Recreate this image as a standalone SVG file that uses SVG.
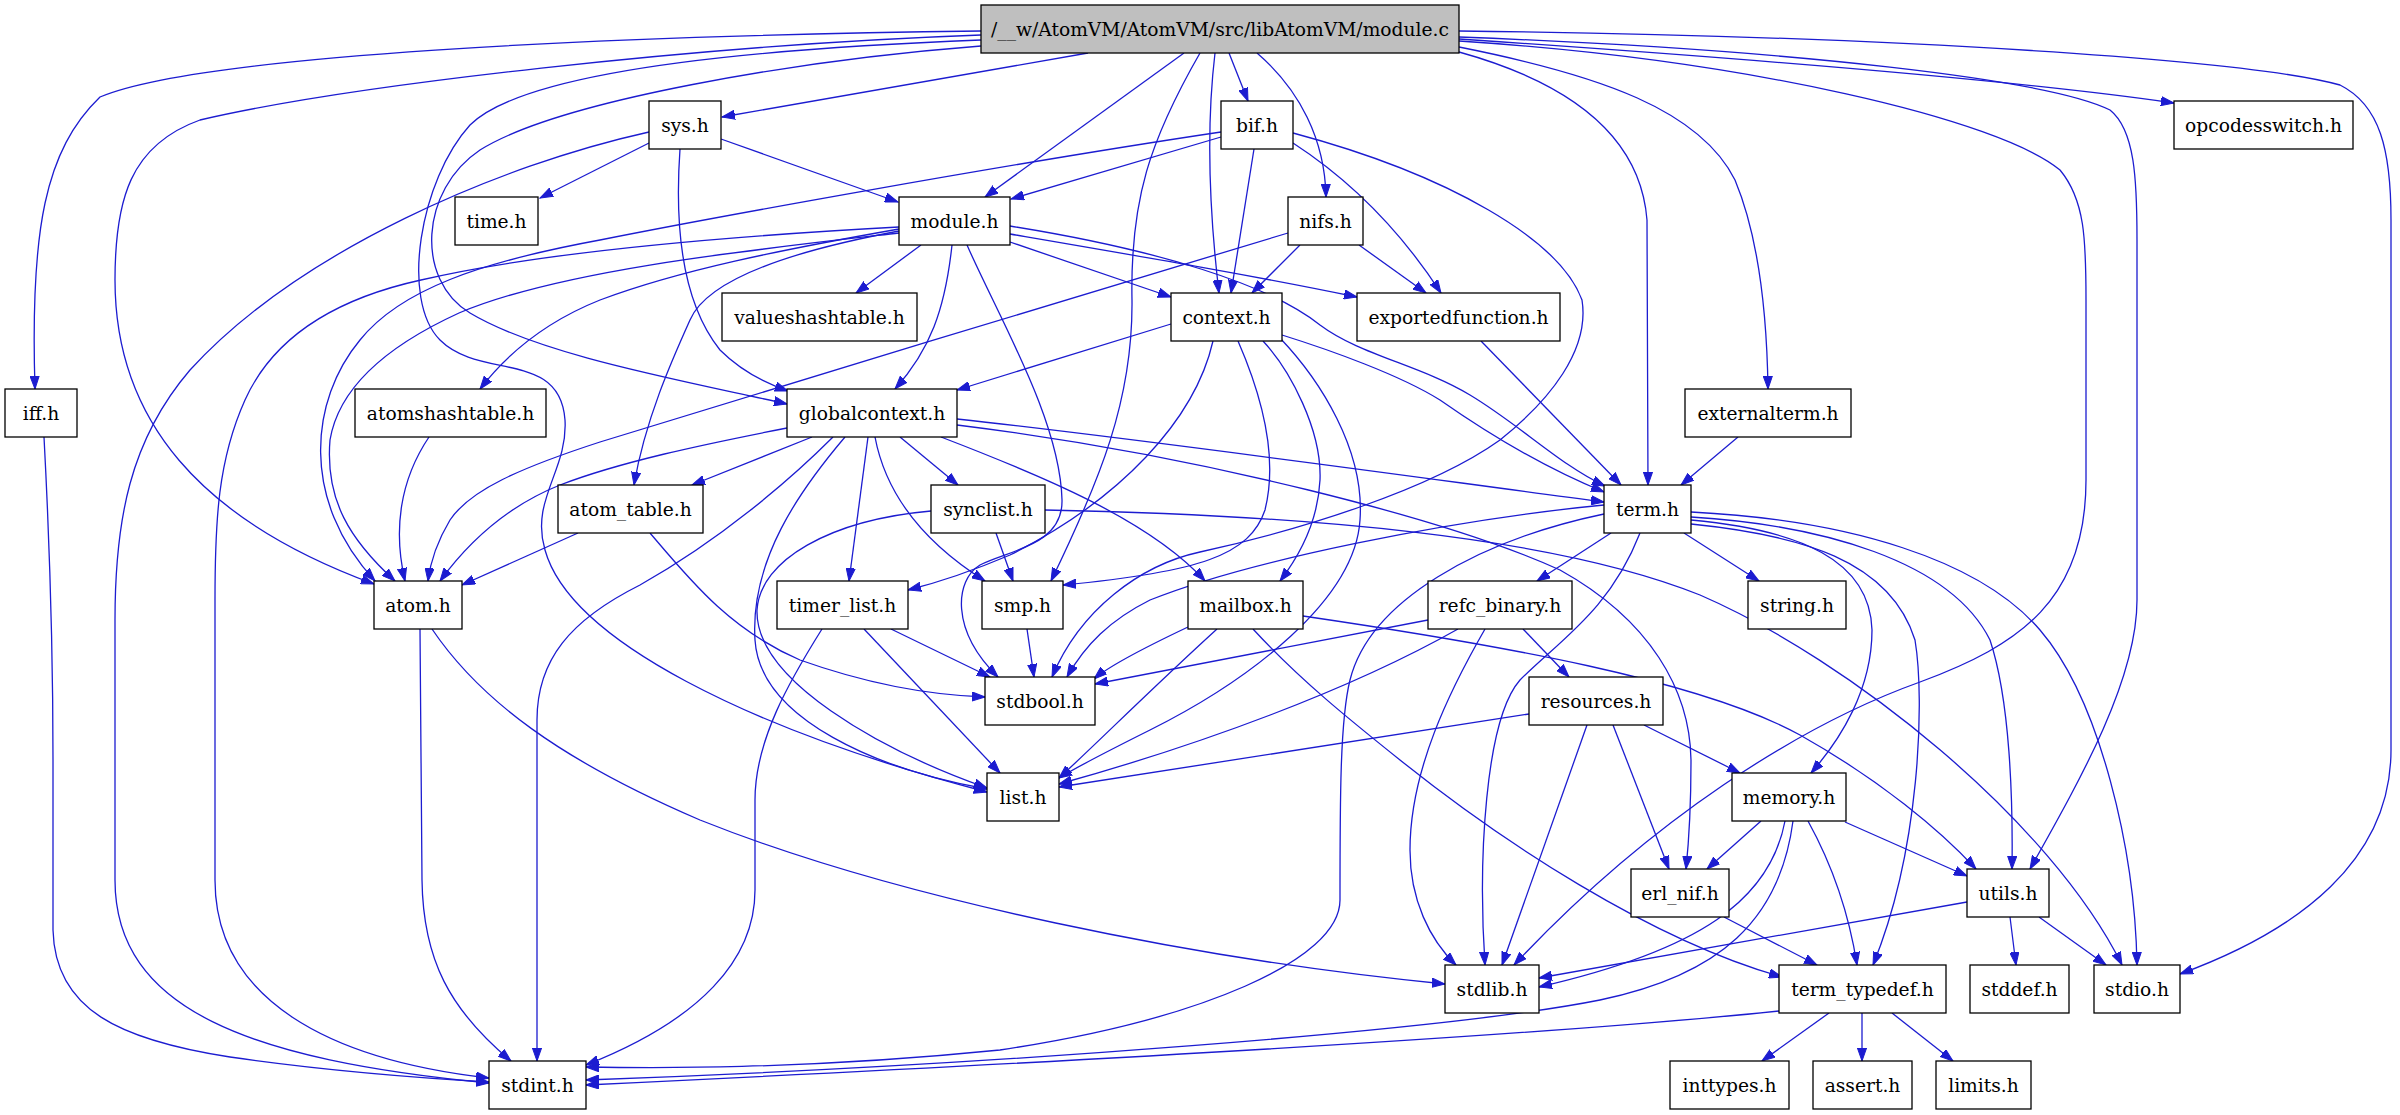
<svg xmlns="http://www.w3.org/2000/svg" width="2400" height="1115" viewBox="0 0 2400 1115">
<style>
.n rect{fill:#fff;stroke:#000;stroke-width:1.3}
.n.root rect{fill:#bfbfbf}
.n text{font-family:"DejaVu Serif",serif;font-size:18.67px;text-anchor:middle;fill:#000}
.e path{fill:none;stroke:#1c1cd0;stroke-width:1.3;marker-end:url(#ah)}
</style>
<defs>
<marker id="ah" markerUnits="userSpaceOnUse" markerWidth="14" markerHeight="10" refX="13" refY="5" orient="auto">
<path d="M0,0.4 L13,5 L0,9.6 z" fill="#1c1cd0" stroke="#1c1cd0" stroke-width="1"/>
</marker>
</defs>
<rect width="2400" height="1115" fill="#fff"/>
<g class="e" id="edges">
<path d="M981,31 C600,36 200,55 100,97 C45,150 30,230 35,389"/>
<path d="M981,35 C700,45 350,85 200,120 C130,145 115,200 115,280 C115,420 200,520 374,584"/>
<path d="M981,40 C720,50 520,75 470,125 C420,180 400,300 440,340 C480,380 560,350 565,420 C568,470 530,500 545,550 C570,640 750,730 987,792"/>
<path d="M981,46 C800,60 560,100 480,150 C420,190 415,280 470,313 C540,355 680,380 787,404"/>
<path d="M1088,53 L722,117"/>
<path d="M1184,53 L985,197"/>
<path d="M1229,53 L1248,101"/>
<path d="M1215,53 C1207,120 1208,200 1219,293"/>
<path d="M1257,53 C1300,90 1325,140 1326,197"/>
<path d="M1200,53 C1150,140 1130,200 1132,300 C1133,400 1100,480 1051,581"/>
<path d="M1459,52 C1560,80 1640,130 1647,220 L1648,485"/>
<path d="M1459,47 C1600,75 1700,110 1735,180 C1760,240 1767,320 1768,389"/>
<path d="M1459,41 C1750,60 2000,120 2060,170 C2085,200 2086,240 2086,300 L2086,480 C2086,600 2020,645 1920,682 C1800,725 1650,820 1514,965"/>
<path d="M1459,37 C1800,50 2050,80 2110,110 C2135,130 2137,180 2137,240 L2137,600 C2137,680 2080,780 2030,869"/>
<path d="M1459,39 C1800,62 2050,85 2174,103"/>
<path d="M1459,31 C1900,36 2250,60 2340,85 C2380,105 2391,150 2391,220 L2391,750 C2391,860 2300,930 2180,974"/>
<path d="M649,143 L540,198"/>
<path d="M721,139 L898,202"/>
<path d="M680,149 C675,220 680,300 720,350 C740,370 762,382 788,391"/>
<path d="M649,132 C500,165 300,250 190,370 C130,440 115,520 115,620 L115,880 C115,1010 250,1060 489,1083"/>
<path d="M1221,137 L1011,199"/>
<path d="M1221,132 C1000,165 700,220 600,240 C480,262 400,290 360,340 C310,400 300,500 375,581"/>
<path d="M1254,149 L1231,293"/>
<path d="M1293,143 C1350,180 1400,230 1441,293"/>
<path d="M1293,133 C1450,175 1560,240 1582,300 C1590,350 1550,400 1500,440 C1430,490 1300,530 1200,552 C1140,565 1080,610 1052,677"/>
<path d="M921,245 L856,293"/>
<path d="M952,245 C945,310 930,350 895,389"/>
<path d="M967,245 C1000,320 1060,420 1062,500 C1063,545 1010,550 980,565 C955,580 950,630 998,677"/>
<path d="M1010,242 L1171,297"/>
<path d="M1010,234 C1150,258 1250,275 1357,297"/>
<path d="M1010,226 C1160,250 1270,285 1320,325 C1360,355 1420,365 1470,395 C1520,425 1560,465 1605,486"/>
<path d="M899,231 C770,255 705,285 690,320 C672,360 645,420 634,485"/>
<path d="M899,229 C780,250 680,270 600,300 C550,320 510,350 480,389"/>
<path d="M899,233 C750,250 560,270 459,313 C400,340 340,380 330,440 C325,500 350,540 395,581"/>
<path d="M899,227 C750,235 550,250 421,280 C330,300 272,340 245,400 C218,460 215,520 215,600 L215,880 C215,1000 330,1060 489,1078"/>
<path d="M1300,245 L1252,293"/>
<path d="M1359,245 L1426,293"/>
<path d="M1288,233 C1100,290 800,380 600,442 C520,468 470,490 450,520 C435,545 430,565 428,581"/>
<path d="M1171,324 L957,390"/>
<path d="M1263,341 C1290,370 1322,430 1320,480 C1318,520 1300,555 1280,581"/>
<path d="M1238,341 C1255,380 1280,450 1265,510 C1250,555 1200,572 1063,585"/>
<path d="M1280,338 C1320,380 1365,450 1360,520 C1355,600 1250,680 1150,730 C1110,750 1080,765 1059,778"/>
<path d="M1282,335 C1330,350 1400,375 1440,400 C1490,435 1550,470 1604,492"/>
<path d="M1213,341 C1195,420 1120,500 1010,555 C970,572 940,582 908,590"/>
<path d="M1481,341 L1621,485"/>
<path d="M1738,437 L1681,485"/>
<path d="M44,437 C50,550 53,650 53,760 L53,930 C55,1010 120,1040 230,1057 C320,1070 420,1078 489,1082"/>
<path d="M429,437 C400,480 393,530 405,581"/>
<path d="M812,437 L692,485"/>
<path d="M787,428 C700,445 620,462 560,485 C510,505 470,540 440,581"/>
<path d="M833,437 C790,480 720,540 640,585 C570,620 537,660 537,720 L537,1061"/>
<path d="M845,437 C800,490 750,560 755,640 C760,720 880,770 987,789"/>
<path d="M868,437 L849,581"/>
<path d="M875,437 C885,490 920,540 985,581"/>
<path d="M900,437 L958,485"/>
<path d="M941,437 C1040,475 1150,520 1205,581"/>
<path d="M957,419 C1150,440 1400,475 1604,502"/>
<path d="M957,425 C1200,455 1450,520 1560,570 C1650,620 1690,690 1691,760 C1691,800 1689,840 1686,869"/>
<path d="M578,533 L462,585"/>
<path d="M650,533 C690,580 730,630 800,660 C870,685 930,695 985,697"/>
<path d="M996,533 L1013,581"/>
<path d="M931,511 C830,520 760,560 757,610 C755,680 880,750 987,788"/>
<path d="M1045,510 C1300,515 1550,535 1700,595 C1850,660 2050,820 2122,965"/>
<path d="M1611,533 L1537,581"/>
<path d="M1684,533 L1759,581"/>
<path d="M1604,505 C1450,520 1250,560 1150,600 C1110,620 1085,645 1067,677"/>
<path d="M1604,514 C1480,540 1370,600 1350,680 C1340,720 1340,800 1340,900 C1340,960 1200,1020 1000,1050 C800,1070 650,1068 586,1067"/>
<path d="M1640,533 C1610,610 1560,640 1520,680 C1485,720 1478,860 1485,965"/>
<path d="M1691,520 C1800,530 1870,560 1872,630 C1872,690 1840,740 1811,773"/>
<path d="M1691,524 C1800,535 1890,560 1915,640 C1925,700 1920,850 1873,965"/>
<path d="M1691,517 C1820,525 1950,560 1990,640 C2010,700 2013,800 2012,869"/>
<path d="M1691,512 C1850,520 1980,560 2040,630 C2100,700 2135,850 2137,965"/>
<path d="M1188,627 C1150,645 1110,665 1094,679"/>
<path d="M1217,629 C1150,690 1090,750 1059,778"/>
<path d="M1253,629 C1300,680 1350,720 1400,760 C1500,840 1650,940 1782,977"/>
<path d="M1303,616 C1500,645 1700,680 1800,735 C1880,780 1940,830 1976,869"/>
<path d="M1428,620 L1095,684"/>
<path d="M1458,629 C1350,690 1200,745 1059,784"/>
<path d="M1523,629 L1569,677"/>
<path d="M1485,629 C1450,690 1410,770 1410,850 C1410,900 1430,940 1456,965"/>
<path d="M1529,714 L1059,787"/>
<path d="M1587,725 L1502,965"/>
<path d="M1613,725 L1669,869"/>
<path d="M1644,725 L1740,773"/>
<path d="M1761,821 L1707,869"/>
<path d="M1845,822 L1967,876"/>
<path d="M1808,821 C1835,870 1850,920 1857,965"/>
<path d="M1785,821 C1770,900 1700,950 1539,987"/>
<path d="M1793,821 C1780,920 1720,975 1600,1000 C1450,1030 1000,1065 586,1080"/>
<path d="M1724,917 L1817,965"/>
<path d="M1967,902 L1539,978"/>
<path d="M2010,917 L2016,965"/>
<path d="M2039,917 L2106,965"/>
<path d="M1779,1011 C1500,1040 900,1070 586,1085"/>
<path d="M1829,1013 L1762,1061"/>
<path d="M1862,1013 L1862,1061"/>
<path d="M1892,1013 L1953,1061"/>
<path d="M891,629 L990,677"/>
<path d="M864,629 L1000,773"/>
<path d="M822,629 C790,680 755,740 755,800 L755,890 C755,960 700,1020 586,1065"/>
<path d="M1027,629 L1034,677"/>
<path d="M420,629 L422,880 C423,960 450,1010 511,1061"/>
<path d="M432,629 C480,700 560,760 700,820 C900,900 1200,960 1445,984"/>
</g>
<g class="n root" id="module_c"><rect x="981" y="5" width="478" height="48"/><text x="1220" y="35.5">/__w/AtomVM/AtomVM/src/libAtomVM/module.c</text></g>
<g class="n" id="sys_h"><rect x="649" y="101" width="72" height="48"/><text x="685" y="131.5">sys.h</text></g>
<g class="n" id="bif_h"><rect x="1221" y="101" width="72" height="48"/><text x="1257" y="131.5">bif.h</text></g>
<g class="n" id="opcodesswitch_h"><rect x="2174" y="101" width="179" height="48"/><text x="2263.5" y="131.5">opcodesswitch.h</text></g>
<g class="n" id="time_h"><rect x="455" y="197" width="83" height="48"/><text x="496.5" y="227.5">time.h</text></g>
<g class="n" id="module_h"><rect x="899" y="197" width="111" height="48"/><text x="954.5" y="227.5">module.h</text></g>
<g class="n" id="nifs_h"><rect x="1288" y="197" width="75" height="48"/><text x="1325.5" y="227.5">nifs.h</text></g>
<g class="n" id="valueshashtable_h"><rect x="722" y="293" width="195" height="48"/><text x="819.5" y="323.5">valueshashtable.h</text></g>
<g class="n" id="context_h"><rect x="1171" y="293" width="111" height="48"/><text x="1226.5" y="323.5">context.h</text></g>
<g class="n" id="exportedfunction_h"><rect x="1357" y="293" width="203" height="48"/><text x="1458.5" y="323.5">exportedfunction.h</text></g>
<g class="n" id="iff_h"><rect x="5" y="389" width="72" height="48"/><text x="41" y="419.5">iff.h</text></g>
<g class="n" id="atomshashtable_h"><rect x="355" y="389" width="191" height="48"/><text x="450.5" y="419.5">atomshashtable.h</text></g>
<g class="n" id="globalcontext_h"><rect x="787" y="389" width="170" height="48"/><text x="872" y="419.5">globalcontext.h</text></g>
<g class="n" id="externalterm_h"><rect x="1685" y="389" width="166" height="48"/><text x="1768" y="419.5">externalterm.h</text></g>
<g class="n" id="atom_table_h"><rect x="558" y="485" width="145" height="48"/><text x="630.5" y="515.5">atom_table.h</text></g>
<g class="n" id="synclist_h"><rect x="931" y="485" width="114" height="48"/><text x="988" y="515.5">synclist.h</text></g>
<g class="n" id="term_h"><rect x="1604" y="485" width="87" height="48"/><text x="1647.5" y="515.5">term.h</text></g>
<g class="n" id="atom_h"><rect x="374" y="581" width="88" height="48"/><text x="418" y="611.5">atom.h</text></g>
<g class="n" id="timer_list_h"><rect x="777" y="581" width="131" height="48"/><text x="842.5" y="611.5">timer_list.h</text></g>
<g class="n" id="smp_h"><rect x="982" y="581" width="81" height="48"/><text x="1022.5" y="611.5">smp.h</text></g>
<g class="n" id="mailbox_h"><rect x="1188" y="581" width="115" height="48"/><text x="1245.5" y="611.5">mailbox.h</text></g>
<g class="n" id="refc_binary_h"><rect x="1428" y="581" width="144" height="48"/><text x="1500" y="611.5">refc_binary.h</text></g>
<g class="n" id="string_h"><rect x="1748" y="581" width="98" height="48"/><text x="1797" y="611.5">string.h</text></g>
<g class="n" id="stdbool_h"><rect x="985" y="677" width="110" height="48"/><text x="1040" y="707.5">stdbool.h</text></g>
<g class="n" id="resources_h"><rect x="1529" y="677" width="134" height="48"/><text x="1596" y="707.5">resources.h</text></g>
<g class="n" id="list_h"><rect x="987" y="773" width="72" height="48"/><text x="1023" y="803.5">list.h</text></g>
<g class="n" id="memory_h"><rect x="1732" y="773" width="114" height="48"/><text x="1789" y="803.5">memory.h</text></g>
<g class="n" id="erl_nif_h"><rect x="1631" y="869" width="98" height="48"/><text x="1680" y="899.5">erl_nif.h</text></g>
<g class="n" id="utils_h"><rect x="1967" y="869" width="82" height="48"/><text x="2008" y="899.5">utils.h</text></g>
<g class="n" id="stdlib_h"><rect x="1445" y="965" width="94" height="48"/><text x="1492" y="995.5">stdlib.h</text></g>
<g class="n" id="term_typedef_h"><rect x="1779" y="965" width="167" height="48"/><text x="1862.5" y="995.5">term_typedef.h</text></g>
<g class="n" id="stddef_h"><rect x="1970" y="965" width="99" height="48"/><text x="2019.5" y="995.5">stddef.h</text></g>
<g class="n" id="stdio_h"><rect x="2094" y="965" width="86" height="48"/><text x="2137" y="995.5">stdio.h</text></g>
<g class="n" id="stdint_h"><rect x="489" y="1061" width="97" height="48"/><text x="537.5" y="1091.5">stdint.h</text></g>
<g class="n" id="inttypes_h"><rect x="1670" y="1061" width="119" height="48"/><text x="1729.5" y="1091.5">inttypes.h</text></g>
<g class="n" id="assert_h"><rect x="1813" y="1061" width="99" height="48"/><text x="1862.5" y="1091.5">assert.h</text></g>
<g class="n" id="limits_h"><rect x="1936" y="1061" width="95" height="48"/><text x="1983.5" y="1091.5">limits.h</text></g>
</svg>
